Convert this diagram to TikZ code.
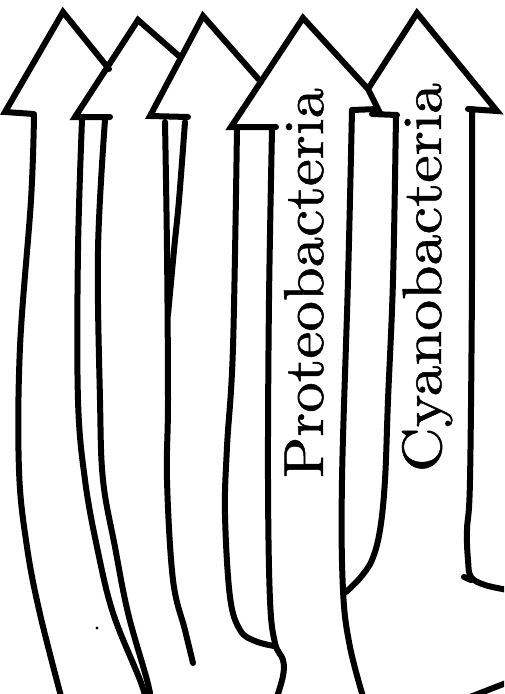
\documentclass[tikz,border=0pt]{standalone}
\usepackage{graphicx}
\newcommand{\heavytext}[1]{\special{pdf:literal direct 2 Tr 0.09 w}#1\special{pdf:literal direct 0 Tr}}
\tikzset{
  ink/.style={line width=6pt, line cap=round, line join=round, black},
  headline/.style={line width=6pt, line cap=round, line join=miter, miter limit=6, black},
  bactlabel/.style={rotate=90, anchor=base west, inner sep=0pt, outer sep=0pt}
}
\begin{document}
\begin{tikzpicture}[x=1pt, y=-1pt]
\useasboundingbox (0,0) rectangle (504,694);
\clip (0,0) rectangle (504,694);
\fill[white] (0,0) rectangle (504,694);

% ---- arrow 1 ----
\draw[ink] plot[smooth, tension=0.6] coordinates {(62,700) (40,614) (27,547) (19,470) (20,347) (31,200) (34,116)};
\draw[headline] (34,114) -- (5,112) -- (63,12) -- (109,69);
\draw[ink] plot[smooth, tension=0.6] coordinates {(82,120) (78,250) (78,400) (85,480) (97,547) (113,613) (140,680) (146,700)};

% ---- arrow 2 ----
\draw[ink] plot[smooth, tension=0.6] coordinates {(151,700) (147,680) (128,613) (115,547) (103,480) (100,400) (98,250) (105,120)};
\draw[headline] (110,117) -- (75,117) -- (138,20) -- (179,56);
\draw[ink] plot[smooth, tension=0.6] coordinates {(165,122) (167,250) (168,400) (167,480) (173,580) (185,630) (193,663)};

% ---- arrow 3 ----
\draw[ink] plot[smooth, tension=0.6] coordinates {(168,315) (174,250) (179,200) (185,122)};
\draw[headline] (188,117) -- (150,116) -- (203,16) -- (261,82);
\draw[ink] plot[smooth, tension=0.6] coordinates {(237,128) (233,347) (227,447) (225,514) (230,597) (240,630) (255,641) (274,646)};

% ---- arrow 4 (Proteobacteria) ----
\draw[ink] plot[smooth, tension=0.6] coordinates {(276,700) (283,676) (283,660) (275,643) (270,600) (268,480) (269,300) (272,130)};
\draw[headline] (276,127) -- (231,127) -- (303,18) -- (368,89) -- (378,109) -- (352,110);
\draw[ink] plot[smooth, tension=0.6] coordinates {(352,110) (348,280) (342,480) (343,590) (350,647) (364,700)};

% ---- arrow 5 (Cyanobacteria) ----
\draw[headline] (368,89) -- (417,13) -- (497,111) -- (468,109);
\draw[ink] (372,114) -- (397,115);
\draw[ink] plot[smooth, tension=0.6] coordinates {(396,115) (393,280) (388,400) (385,480) (380,530) (372,560) (360,578) (346,592)};
\draw[ink] plot[smooth, tension=0.6] coordinates {(472,109) (472,280) (470,480) (467,530) (468,560) (471,577) (485,585) (508,590)};
\draw[ink] (464,577) -- (471,580);

% ---- bottom right fragment and speck ----
\draw[ink] (470,697) -- (506,683);
\fill (97,628) circle (1.6pt);

% ---- labels ----
\node[bactlabel] (proteo) at (323,478) {\resizebox{390pt}{39pt}{\fontsize{10}{12}\selectfont\heavytext{Proteobacteria}}};
\node[bactlabel] (cyano) at (441,472) {\resizebox{389pt}{39pt}{\fontsize{10}{12}\selectfont\heavytext{Cyanobacteria}}};
\end{tikzpicture}
\end{document}
